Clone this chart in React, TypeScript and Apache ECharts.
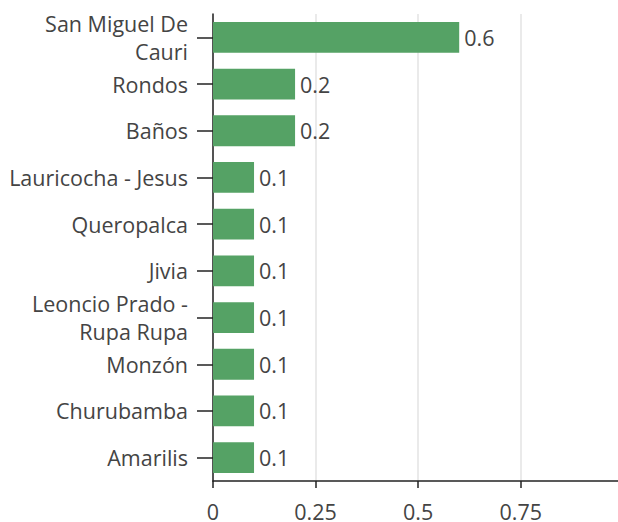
import React, { useEffect, useRef } from "react";
import * as echarts from "echarts";

const categories = [
  "San Miguel De\nCauri",
  "Rondos",
  "Baños",
  "Lauricocha - Jesus",
  "Queropalca",
  "Jivia",
  "Leoncio Prado -\nRupa Rupa",
  "Monzón",
  "Churubamba",
  "Amarilis",
];
const values = [0.6, 0.2, 0.2, 0.1, 0.1, 0.1, 0.1, 0.1, 0.1, 0.1];
const xTicks = [0, 0.25, 0.5, 0.75];
const xMax = 0.987;

export default function App() {
  const ref = useRef<HTMLDivElement>(null);
  useEffect(() => {
    document.body.style.margin = "0";
    const chart = echarts.init(ref.current!, null, { renderer: "svg" });
    const font = "'Open Sans', sans-serif";
    chart.setOption({
      animation: false,
      grid: { left: 213, right: 0, top: 14, bottom: 38, containLabel: false },
      xAxis: {
        type: "value",
        min: 0,
        max: xMax,
        interval: 0.25,
        axisLine: { show: true, lineStyle: { color: "#222", width: 1.5 } },
        axisTick: { show: true, length: 7, lineStyle: { color: "#222", width: 1.5 } },
        axisLabel: {
          color: "#444",
          fontSize: 21.5,
          fontFamily: font,
          margin: 19,
          showMaxLabel: false,
          formatter: (v: number) => (xTicks.includes(v) ? String(v) : ""),
        },
        splitLine: { show: true, showMaxLine: false, lineStyle: { color: "#e3e3e3", width: 1.5 } },
      },
      yAxis: {
        type: "category",
        inverse: true,
        data: categories,
        axisLine: { show: true, lineStyle: { color: "#222", width: 1.5 } },
        axisTick: { show: true, alignWithLabel: true, length: 16, lineStyle: { color: "#222", width: 1.5 } },
        axisLabel: {
          color: "#444",
          fontSize: 21.5,
          fontFamily: font,
          margin: 25,
          lineHeight: 27.5,
          align: "right",
        },
      },
      series: [
        {
          type: "bar",
          data: values,
          barWidth: "66%",
          itemStyle: { color: "#55a265" },
          label: {
            show: true,
            position: "right",
            distance: 5,
            color: "#444",
            fontSize: 21.5,
            fontFamily: font,
            formatter: (p: any) => String(p.value),
          },
        },
      ],
    });
    return () => chart.dispose();
  }, []);
  return <div ref={ref} style={{ width: 618, height: 522 }} />;
}
